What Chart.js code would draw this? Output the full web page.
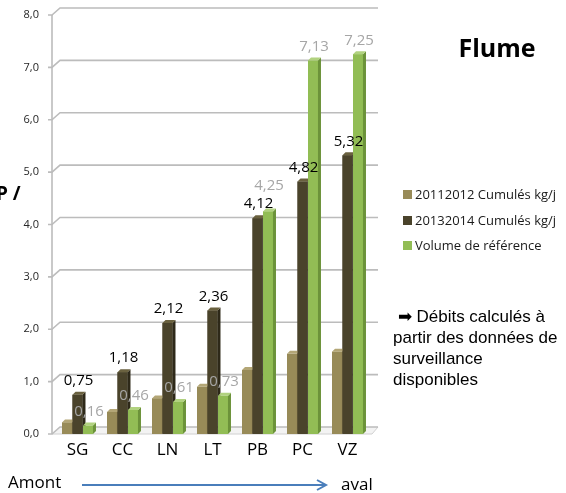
<!DOCTYPE html>
<html>
<head>
<meta charset="utf-8">
<script src="https://cdn.jsdelivr.net/npm/chart.js@4"></script>
<style>
  html, body { margin: 0; padding: 0; background: #fff; }
  #wrap { position: relative; width: 566px; height: 493px; overflow: hidden; font-family: "Open Sans", sans-serif; }
  #c { position: absolute; left: 0; top: 0; }
  #title { position: absolute; left: 437px; width: 120px; top: 31px; text-align: center; font-weight: bold; font-size: 25px; line-height: 32px; color: #000; }
  #legend { position: absolute; left: 403px; top: 185px; font-size: 13px; color: #1a1a1a; }
  #legend .row { position: absolute; left: 0; white-space: nowrap; height: 18px; line-height: 18px; }
  #legend .sw { position: absolute; left: 0; top: 5px; width: 9px; height: 9px; }
  #legend .tx { position: absolute; left: 12px; top: 0; }
  #note { position: absolute; left: 393px; top: 306px; font-family: "Liberation Sans", Arial, sans-serif; font-size: 17px; line-height: 21px; color: #000; white-space: nowrap; }
  #amont { position: absolute; left: 8px; top: 471px; font-size: 17px; line-height: 22px; color: #000; }
  #aval { position: absolute; left: 341px; top: 473px; font-size: 17px; line-height: 22px; color: #000; }
  #flow { position: absolute; left: 0; top: 470px; }
  #cut { position: absolute; left: -4px; top: 181px; font-size: 19px; font-weight: bold; line-height: 24px; color: #000; }
</style>
</head>
<body>
<div id="wrap">
  <canvas id="c" width="566" height="493"></canvas>
  <div id="cut">P /</div>
  <div id="title">Flume</div>
  <div id="legend"></div>
  <div id="note">&nbsp;➡ Débits calculés à<br>partir des données de<br>surveillance<br>disponibles</div>
  <div id="amont">Amont</div>
  <div id="aval">aval</div>
  <svg id="flow" width="566" height="30">
    <line x1="82" y1="15" x2="325" y2="15" stroke="#4a7ebb" stroke-width="2"/>
    <polyline points="317,10 326,15 317,20" fill="none" stroke="#4a7ebb" stroke-width="2"/>
  </svg>
</div>
<script>
// Sampling stations, upstream to downstream
const categories = ['SG', 'CC', 'LN', 'LT', 'PB', 'PC', 'VZ'];
const seriesNames = ['20112012 Cumulés kg/j', '20132014 Cumulés kg/j', 'Volume de référence'];

// Daily loads per station
const cumul2011 = [0.22, 0.42, 0.68, 0.90, 1.22, 1.53, 1.57];
const cumul2013 = [0.75, 1.18, 2.12, 2.36, 4.12, 4.82, 5.32];
const volumeRef = [0.16, 0.46, 0.61, 0.73, 4.25, 7.13, 7.25];

// Value axis
const yTicks = [0, 1, 2, 3, 4, 5, 6, 7, 8];

// Face colours for the pseudo-3D columns: front, side, top
const palette = [
  { front: '#988b58', side: '#6f653d', top: '#b3a676' },
  { front: '#4a432b', side: '#2e2919', top: '#6a613f' },
  { front: '#92bd55', side: '#6c933a', top: '#b1d27f' }
];
const labelColors = [null, '#000000', '#a6a6a6'];

const DX = 3, DY = 3;     // column depth
const WX = 8, WY = 7;     // back wall offset

// Legend built from the series
const legendEl = document.getElementById('legend');
const legendRowsY = [0, 26, 51];
seriesNames.forEach((name, i) => {
  const row = document.createElement('div');
  row.className = 'row';
  row.style.top = legendRowsY[i] + 'px';
  row.innerHTML = '<span class="sw" style="background:' + palette[i].front + '"></span><span class="tx"></span>';
  row.querySelector('.tx').textContent = name;
  legendEl.appendChild(row);
});

const fmt = v => v.toFixed(2).replace('.', ',');

// Back wall, floor and tick marks
const wallPlugin = {
  id: 'wall',
  beforeDatasetsDraw(chart) {
    const { ctx, chartArea: a, scales: { y } } = chart;
    const ax = a.left - 3;
    ctx.save();
    const yb = y.getPixelForValue(0);
    ctx.fillStyle = '#f3f3f3';
    ctx.beginPath();
    ctx.moveTo(ax, yb);
    ctx.lineTo(ax + WX, yb - WY);
    ctx.lineTo(a.right + WX, yb - WY);
    ctx.lineTo(a.right + 2, yb);
    ctx.closePath();
    ctx.fill();
    ctx.strokeStyle = '#d0d0d0';
    ctx.lineWidth = 1;
    ctx.beginPath();
    ctx.moveTo(ax, yb);
    ctx.lineTo(a.right + 2, yb);
    ctx.lineTo(a.right + WX, yb - WY);
    ctx.stroke();
    ctx.strokeStyle = '#bcbcbc';
    ctx.lineWidth = 1.6;
    yTicks.forEach(v => {
      const py = y.getPixelForValue(v);
      ctx.beginPath();
      ctx.moveTo(ax - 4, py);
      ctx.lineTo(ax, py);
      ctx.lineTo(ax + WX, py - WY);
      ctx.lineTo(a.right + WX, py - WY);
      ctx.stroke();
    });
    ctx.beginPath();
    ctx.moveTo(ax, y.getPixelForValue(yTicks[yTicks.length - 1]));
    ctx.lineTo(ax, yb);
    ctx.stroke();
    ctx.restore();
  }
};

// Columns redrawn left to right with their side and top faces
const depthPlugin = {
  id: 'depth',
  afterDatasetsDraw(chart) {
    const { ctx } = chart;
    ctx.save();
    chart.data.datasets.forEach((ds, di) => {
      const col = palette[di];
      chart.getDatasetMeta(di).data.forEach(el => {
        const p = el.getProps(['x', 'y', 'base', 'width'], true);
        const l = p.x - p.width / 2, r = p.x + p.width / 2;
        ctx.fillStyle = col.front;
        ctx.fillRect(l, p.y, r - l, p.base - p.y);
        ctx.fillStyle = col.side;
        ctx.beginPath();
        ctx.moveTo(r, p.y);
        ctx.lineTo(r + DX, p.y - DY);
        ctx.lineTo(r + DX, p.base - DY);
        ctx.lineTo(r, p.base);
        ctx.closePath();
        ctx.fill();
        ctx.fillStyle = col.top;
        ctx.beginPath();
        ctx.moveTo(l, p.y);
        ctx.lineTo(l + DX, p.y - DY);
        ctx.lineTo(r + DX, p.y - DY);
        ctx.lineTo(r, p.y);
        ctx.closePath();
        ctx.fill();
      });
    });
    ctx.restore();
  }
};

// Value labels for the 2013-2014 series and the reference volume
const labelPlugin = {
  id: 'valueLabels',
  afterDatasetsDraw(chart) {
    const { ctx } = chart;
    ctx.save();
    ctx.font = '15px "Open Sans"';
    ctx.textAlign = 'center';
    ctx.textBaseline = 'middle';
    const darkPos = chart.getDatasetMeta(1).data.map(el => {
      const p = el.getProps(['x', 'y'], true);
      return { x: p.x + 1, y: p.y - 14 };
    });
    darkPos.forEach((pos, i) => {
      ctx.fillStyle = labelColors[1];
      ctx.fillText(fmt(cumul2013[i]), pos.x, pos.y);
    });
    chart.getDatasetMeta(2).data.forEach((el, i) => {
      const p = el.getProps(['x', 'y'], true);
      let ly = p.y - 14;
      const lx = p.x + 1;
      const d = darkPos[i];
      // move clear of the neighbouring label
      if (Math.abs(ly - d.y) < 17 && Math.abs(lx - d.x) < 30) ly = d.y - 18;
      ctx.fillStyle = labelColors[2];
      ctx.fillText(fmt(volumeRef[i]), lx, ly);
    });
    ctx.restore();
  }
};

const seriesData = [cumul2011, cumul2013, volumeRef];

new Chart(document.getElementById('c'), {
  type: 'bar',
  data: {
    labels: categories,
    datasets: seriesData.map((d, i) => ({
      label: seriesNames[i],
      data: d,
      backgroundColor: palette[i].front,
      borderWidth: 0,
      categoryPercentage: 0.7,
      barPercentage: 0.95
    }))
  },
  options: {
    responsive: false,
    animation: false,
    layout: { padding: { left: 0, right: 196, top: 15, bottom: 0 } },
    plugins: { legend: { display: false }, tooltip: { enabled: false } },
    scales: {
      x: {
        grid: { display: false, drawTicks: false },
        border: { display: false },
        ticks: { color: '#000', font: { family: 'Open Sans', size: 17 }, padding: 6 },
        afterFit(s) { s.height = 59; }
      },
      y: {
        min: 0,
        max: 8,
        afterBuildTicks(s) { s.ticks = yTicks.map(v => ({ value: v })); },
        grid: { display: false, drawTicks: false },
        border: { display: false },
        ticks: {
          color: '#262626',
          font: { family: 'Open Sans', size: 11 },
          padding: 16,
          callback: v => Number(v).toFixed(1).replace('.', ',')
        },
        afterFit(s) { s.width = 55; s.paddingTop = 0; s.paddingBottom = 0; }
      }
    }
  },
  plugins: [wallPlugin, depthPlugin, labelPlugin]
});
</script>
</body>
</html>
